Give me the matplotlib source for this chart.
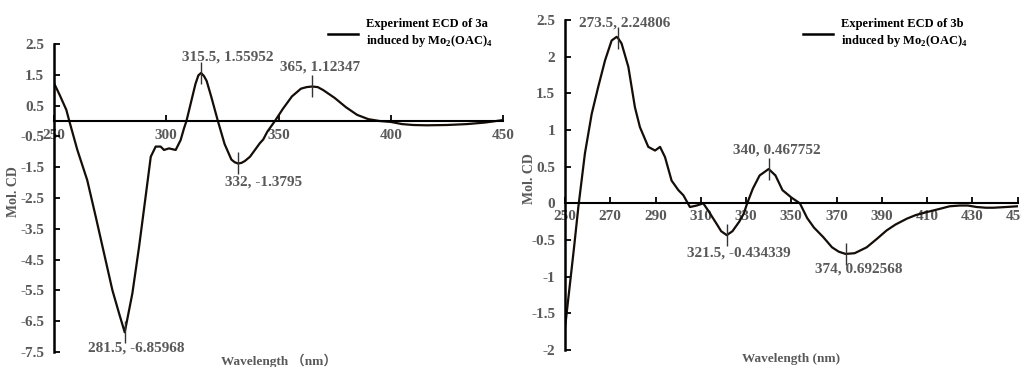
import numpy as np
import matplotlib
matplotlib.use("Agg")
import matplotlib.pyplot as plt
from matplotlib.lines import Line2D

plt.rcParams['font.family'] = ['Liberation Serif', 'Noto Sans CJK SC']
plt.rcParams['font.weight'] = 'bold'
plt.rcParams['mathtext.fontset'] = 'custom'
plt.rcParams['mathtext.rm'] = 'Liberation Serif:bold'
plt.rcParams['mathtext.bf'] = 'Liberation Serif:bold'

# 3a (left)
wl_a = [250, 252.5, 255.5, 256.7, 260.4, 264.8, 268.6, 272.3, 276, 279, 281.5,
        284.9, 287.9, 290.8, 293.1, 295.3, 297.5, 299, 301.2, 304.2, 306.4, 307.9,
        309, 311, 313, 314.3, 315.5, 316.8, 318, 320, 323, 326, 329, 330.5, 332, 333.5,
        335, 337.3, 341.7, 343.2, 345, 348.4, 352, 356, 360, 362.5, 365, 367.5, 370, 375,
        380, 385, 390, 395, 400, 405, 410, 416, 425, 434, 442, 450]
cd_a = [1.23, 0.85, 0.36, 0.03, -0.94, -1.92, -3.11, -4.3, -5.49, -6.25, -6.86,
        -5.6, -4.08, -2.46, -1.16, -0.83, -0.83, -0.94, -0.89, -0.94, -0.62, -0.24,
        0.0, 0.6, 1.2, 1.48, 1.56, 1.46, 1.3, 0.8, 0.0, -0.75, -1.25, -1.34, -1.38, -1.36,
        -1.3, -1.16, -0.72, -0.6, -0.35, 0.0, 0.4, 0.8, 1.05, 1.1, 1.12, 1.1, 1.0, 0.75,
        0.45, 0.2, 0.06, 0.0, -0.03, -0.1, -0.13, -0.14, -0.13, -0.1, -0.05, 0.03]
peaks_a = [(315.5, 1.55952, "315.5, 1.55952", 19, 11.5),
           (365, 1.12347, "365, 1.12347", 6, 14),
           (332, -1.3795, "332, -1.3795", 18, -13),
           (281.5, -6.85968, "281.5, -6.85968", 8, -11.5)]
yticks_a = [2.5, 1.5, 0.5, -0.5, -1.5, -2.5, -3.5, -4.5, -5.5, -6.5, -7.5]
xticks_a = [250, 300, 350, 400, 450]

# 3b (right)
wl_b = [250, 252, 254, 255.9, 258.8, 261.8, 264.7, 267.7, 270.6, 272.8, 273.5, 275, 278,
        280.9, 283.1, 286.8, 289.8, 292, 294.2, 297.1, 300.1, 302.3, 305.2, 308.2, 311.1,
        313.3, 317, 319, 321.5, 324, 327, 329, 330.5, 333, 336, 340,
        343, 346.1, 350, 353.8, 357, 360, 364.1, 368, 371, 374, 378, 383.3, 388, 392.1,
        396, 401, 405, 409.8, 415, 420, 424.5, 428, 431.9, 436, 439.3, 445, 450]
cd_b = [-1.7, -1.15, -0.6, -0.05, 0.68, 1.22, 1.59, 1.95, 2.22, 2.27, 2.25, 2.18, 1.86,
        1.31, 1.04, 0.77, 0.72, 0.77, 0.63, 0.31, 0.18, 0.11, -0.05, -0.03, 0.0,
        -0.1, -0.28, -0.38, -0.434, -0.38, -0.25, -0.14, 0.0, 0.2, 0.38, 0.468,
        0.38, 0.18, 0.08, 0.0, -0.2, -0.33, -0.46, -0.6, -0.66, -0.69, -0.68, -0.6, -0.48, -0.37,
        -0.29, -0.21, -0.16, -0.12, -0.08, -0.04, -0.03, -0.03, -0.05, -0.06, -0.06, -0.05, -0.04]
peaks_b = [(273.5, 2.24806, "273.5, 2.24806", 4.7, 11),
           (340, 0.467752, "340, 0.467752", 6, 13.5),
           (321.5, -0.434339, "321.5, -0.434339", 9, -13),
           (374, -0.692568, "374, 0.692568", 9.6, -10.5)]
yticks_b = [2.5, 2, 1.5, 1, 0.5, 0, -0.5, -1, -1.5, -2]
xticks_b = [250, 270, 290, 310, 330, 350, 370, 390, 410, 430, 450]

gray = '#595959'
W, H = 1021, 367
fig = plt.figure(figsize=(W / 100, H / 100), dpi=100)

# axes boxes in pixels: left, top, right, bottom
ax1 = fig.add_axes([54 / W, (H - 352) / H, (503 - 54) / W, (352 - 44) / H])
ax2 = fig.add_axes([565 / W, (H - 350) / H, (1017.6 - 565) / W, (350 - 20) / H])


def setup(ax, wl, cd, peaks, xt, yt, ylim, xpad, label, xlab):
    ax.plot(wl, cd, color='#140d08', lw=1.6)
    for x, y, txt, dx, dy in peaks:
        ax.plot([x], [y], marker='|', ms=16, mew=1.0, color='#333333')
        ax.annotate(txt, (x, y), xytext=(dx, dy), textcoords='offset points',
                    ha='center', va='center', fontsize=11, color=gray)
    ax.set_xlim(250, 450)
    ax.set_ylim(*ylim)
    ax.set_xticks(xt)
    ax.set_yticks(yt)
    ax.set_yticklabels(['%g' % v for v in yt])
    ax.spines['top'].set_visible(False)
    ax.spines['right'].set_visible(False)
    ax.spines['bottom'].set_position(('data', 0))
    ax.spines['left'].set_linewidth(1.8)
    ax.spines['bottom'].set_linewidth(1.5)
    ax.tick_params(axis='both', direction='in', length=4, width=1.3, labelsize=11,
                   labelcolor=gray)
    ax.tick_params(axis='x', pad=xpad)
    ax.tick_params(axis='y', pad=7)
    ax.set_ylabel("Mol. CD", fontsize=10, color=gray, fontweight='bold')
    ax.set_xlabel(xlab, fontsize=9.5, color=gray, fontweight='bold')
    ax.patch.set_visible(False)
    for t in ax.get_xticklabels() + ax.get_yticklabels():
        t.set_fontweight('bold')
    h = Line2D([], [], color='black', lw=1.8)
    ax.legend([h], [label], loc='center left', frameon=False, fontsize=9,
              handlelength=2.4, handletextpad=0.6, borderpad=0, borderaxespad=0)
    return ax


setup(ax1, wl_a, cd_a, peaks_a, xticks_a, yticks_a, (-7.5, 2.5), 6,
      "Experiment ECD of 3a\ninduced by Mo$_\\mathbf{2}$(OAC)$_\\mathbf{4}$",
      "Wavelength （nm）")
setup(ax2, wl_b, cd_b, peaks_b, xticks_b, yticks_b, (-2, 2.5), 5,
      "Experiment ECD of 3b\ninduced by Mo$_\\mathbf{2}$(OAC)$_\\mathbf{4}$",
      "Wavelength (nm)")

# legends positioned in figure pixels
ax1.get_legend().set_bbox_to_anchor((328 / W, 1 - 33.5 / H), transform=fig.transFigure)
ax2.get_legend().set_bbox_to_anchor((803 / W, 1 - 33.5 / H), transform=fig.transFigure)
ax1.yaxis.set_label_coords(-0.076, 0.52)
ax2.yaxis.set_label_coords(-0.064, 0.52)
ax1.xaxis.set_label_coords(0.5, -0.006)
ax2.xaxis.set_label_coords(0.5, -0.01)

fig.savefig("out.png", dpi=100)
